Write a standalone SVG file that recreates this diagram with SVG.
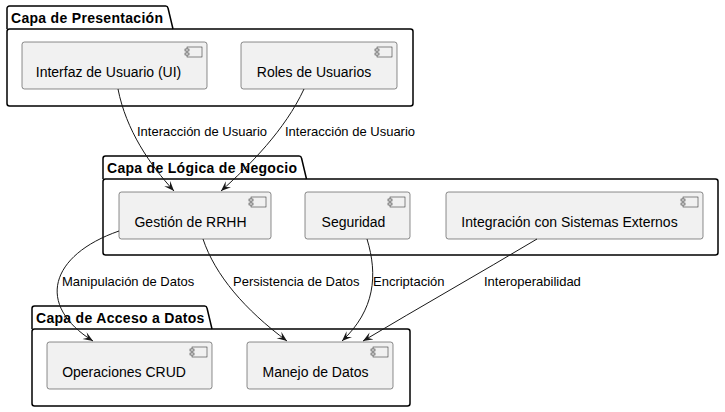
<svg xmlns="http://www.w3.org/2000/svg" width="725" height="412" viewBox="0 0 725 412">
<defs>
<style>
.pkg{fill:none;stroke:#000;stroke-width:1.5}
.ptitle{font-family:"Liberation Sans",Arial,sans-serif;font-size:14px;font-weight:bold;fill:#000;letter-spacing:0.3px}
.comp{fill:#F1F1F1;stroke:#181818;stroke-width:0.5}
.ctext{font-family:"Liberation Sans",Arial,sans-serif;font-size:14px;fill:#000;text-anchor:middle}
.edge{fill:none;stroke:#181818;stroke-width:1}
.elabel{font-family:"Liberation Sans",Arial,sans-serif;font-size:13px;fill:#000}
</style>
<marker id="arr" markerWidth="12" markerHeight="10" refX="10" refY="4" orient="auto" markerUnits="userSpaceOnUse">
<polygon points="0,0 10,4 0,8 4,4" fill="#181818"/>
</marker>
<g id="icon">
<rect x="0" y="0" width="15" height="10" class="comp"/>
<rect x="-2" y="2" width="4" height="2" class="comp"/>
<rect x="-2" y="6" width="4" height="2" class="comp"/>
</g>
</defs>
<rect width="725" height="412" fill="#fff"/>

<g id="pkg-presentacion">
<path class="pkg" d="M7,29 L7,8.5 A2.5,2.5 0 0 1 9.5,6 L165.5,6 A2.5,2.5 0 0 1 168,8 L173,29"/>
<rect class="pkg" x="7" y="29" width="406" height="77" rx="2.5"/>
<text class="ptitle" x="11" y="23">Capa de Presentación</text>
</g>
<g id="pkg-logica">
<path class="pkg" d="M103,179 L103,158.5 A2.5,2.5 0 0 1 105.5,156 L299,156 A2.5,2.5 0 0 1 301.5,158 L306.5,179"/>
<rect class="pkg" x="103" y="179" width="615" height="76" rx="2.5"/>
<text class="ptitle" x="107" y="173">Capa de Lógica de Negocio</text>
</g>
<g id="pkg-acceso">
<path class="pkg" d="M32,329 L32,308.5 A2.5,2.5 0 0 1 34.5,306 L204.5,306 A2.5,2.5 0 0 1 207,308 L212,329"/>
<rect class="pkg" x="32" y="329" width="378" height="77" rx="2.5"/>
<text class="ptitle" x="36" y="323">Capa de Acceso a Datos</text>
</g>

<g id="interfaz">
<rect class="comp" x="22" y="42" width="185" height="47" rx="2.5"/>
<use href="#icon" x="187" y="47"/>
<text class="ctext" x="108.5" y="77">Interfaz de Usuario (UI)</text>
</g>
<g id="roles">
<rect class="comp" x="241" y="42" width="156" height="47" rx="2.5"/>
<use href="#icon" x="377" y="47"/>
<text class="ctext" x="314" y="77">Roles de Usuarios</text>
</g>
<g id="gestion">
<rect class="comp" x="119" y="192" width="152" height="47" rx="2.5"/>
<use href="#icon" x="251" y="197"/>
<text class="ctext" x="190.5" y="227">Gestión de RRHH</text>
</g>
<g id="seguridad">
<rect class="comp" x="305" y="192" width="105" height="47" rx="2.5"/>
<use href="#icon" x="390" y="197"/>
<text class="ctext" x="353.5" y="227">Seguridad</text>
</g>
<g id="integracion">
<rect class="comp" x="446" y="192" width="257" height="47" rx="2.5"/>
<use href="#icon" x="683" y="197"/>
<text class="ctext" x="569.5" y="227">Integración con Sistemas Externos</text>
</g>
<g id="crud">
<rect class="comp" x="47" y="342" width="165" height="47" rx="2.5"/>
<use href="#icon" x="192" y="347"/>
<text class="ctext" x="124" y="377">Operaciones CRUD</text>
</g>
<g id="manejo">
<rect class="comp" x="247" y="342" width="146" height="47" rx="2.5"/>
<use href="#icon" x="373" y="347"/>
<text class="ctext" x="315.5" y="377">Manejo de Datos</text>
</g>

<g id="connectors">
<path class="edge" marker-end="url(#arr)" d="M118,89 C126,130 150,165 174,191"/>
<path class="edge" marker-end="url(#arr)" d="M304,89 C285,130 250,165 221,191"/>
<path class="edge" marker-end="url(#arr)" d="M119,231 C50,255 35,305 93,341"/>
<path class="edge" marker-end="url(#arr)" d="M203,239 C215,275 245,310 287,341"/>
<path class="edge" marker-end="url(#arr)" d="M367,239 C378,275 375,310 342,341"/>
<path class="edge" marker-end="url(#arr)" d="M537,239 C480,273 420,307 363,341"/>
<text class="elabel" x="137" y="136">Interacción de Usuario</text>
<text class="elabel" x="285" y="136">Interacción de Usuario</text>
<text class="elabel" x="62" y="286">Manipulación de Datos</text>
<text class="elabel" x="233" y="286">Persistencia de Datos</text>
<text class="elabel" x="373" y="286">Encriptación</text>
<text class="elabel" x="484" y="286">Interoperabilidad</text>
</g>
</svg>
